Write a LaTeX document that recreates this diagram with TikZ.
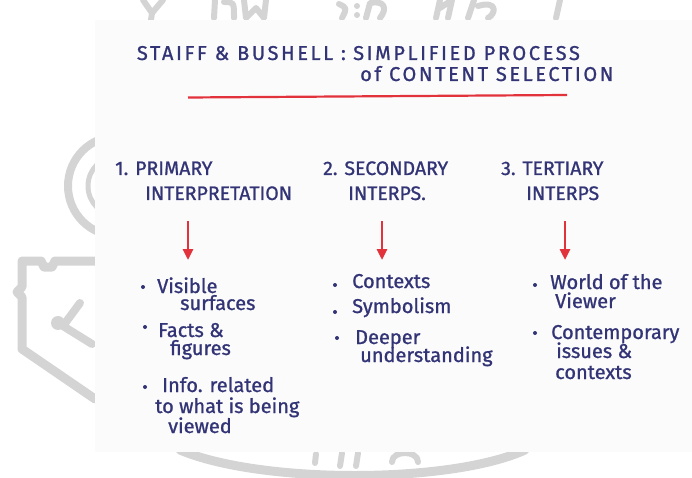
\documentclass[tikz,border=0pt]{standalone}
\usepackage{fontspec}
\setmainfont{Fira Sans}[FakeBold=1]
\newfontfamily\capsfont{Fira Sans}[LetterSpace=13, FakeBold=1]
\usetikzlibrary{arrows.meta}

\definecolor{ink}{RGB}{50,52,118}
\definecolor{marker}{RGB}{226,50,60}
\definecolor{paper}{RGB}{251,251,251}
\definecolor{seal}{RGB}{212,212,212}

\begin{document}
\begin{tikzpicture}[
    x=1pt, y=-1pt,
    hand/.style={text=ink, inner sep=0pt, anchor=base west,
      font=\fontsize{20}{24}\selectfont},
    headline/.style={hand, font=\fontsize{19.5}{24}\selectfont},
    titleline/.style={hand, font=\capsfont\fontsize{20}{24}\selectfont},
    bullet/.style={circle, fill=ink, inner sep=0pt, minimum size=4pt},
    arr/.style={-{Triangle[width=10pt,length=11pt]}, draw=marker, line width=2.6pt},
    wm/.style={draw=seal, line width=8pt, line join=round, line cap=round}
  ]
  \useasboundingbox (0,0) rectangle (692,478);

  % seal printed behind the sheet
  \draw[wm] (118,186) circle (50);
  \draw[wm, line width=5pt] (118,186) circle (30);
  \draw[wm, line width=9pt] (95,261) -- (55,261) -- (52,267) -- (44,267)
    -- (41,261) -- (22,261) -- (22,287) -- (17,292) -- (22,297) -- (22,349) -- (95,399);
  \draw[wm] (80,303) -- (63,326) -- (92,344);
  \fill[seal] (58,323) circle (7);
  \draw[wm, line width=9pt] (180,450) .. controls (260,484) and (450,484) .. (525,450);
  \draw[wm, line width=6pt] (316,454) -- (315,463);
  \draw[wm, line width=6pt] (342,453) -- (340,466) (358,453) -- (356,466);
  \draw[wm, line width=6pt] (392,462) .. controls (392,450) and (418,450) .. (418,462);
  \draw[wm, line width=6pt] (143,0) -- (152,13) -- (163,0) (152,13) -- (151,20);
  \draw[wm, line width=6pt] (215,0) -- (214,18) (224,2) .. controls (234,2) .. (234,18);
  \draw[wm, line width=6pt] (244,0) -- (246,18) -- (256,8) -- (264,18) -- (266,0);
  \draw[wm, line width=6pt] (339,4) .. controls (347,8) .. (342,18);
  \fill[seal] (357,6) circle (3) (357,15) circle (3);
  \draw[wm, line width=6pt] (366,18) -- (370,3) .. controls (384,0) and (388,8) .. (380,18);
  \draw[wm, line width=6pt] (436,18) -- (440,0) (440,8) -- (452,0) -- (448,18);
  \draw[wm, line width=6pt] (468,18) -- (474,0) (478,6) .. controls (498,0) and (496,14) .. (488,18);
  \draw[wm, line width=6pt] (560,0) -- (556,18);

  % the sheet
  \fill[paper] (95,20) rectangle (692,452);

  % title and its underline
  \node[titleline, anchor=base east] (title1) at (346,60) {STAIFF \& BUSHELL :};
  \node[titleline] (title2) at (353,60) {SIMPLIFIED PROCESS};
  \node[titleline] (title3) at (360,81) {of CONTENT SELECTION};
  \coordinate (u1) at (188,97.5);
  \coordinate (u2) at (567,95);
  \draw[marker, line width=2.2pt] (u1) -- (u2);

  % column headings
  \node[headline] (h1) at (115,175) {1. PRIMARY};
  \node[headline] (h1b) at (145,200) {INTERPRETATION};
  \node[headline] (h2) at (323,175) {2. SECONDARY};
  \node[headline] (h2b) at (348,200) {INTERPS.};
  \node[headline] (h3) at (501,175) {3. TERTIARY};
  \node[headline] (h3b) at (526,200) {INTERPS};

  % red arrows
  \coordinate (a1) at (188,221);
  \coordinate (b1) at (188,260);
  \coordinate (a2) at (382,221);
  \coordinate (b2) at (382,260);
  \coordinate (a3) at (565,221);
  \coordinate (b3) at (565,260);
  \draw[arr] (a1) -- (b1);
  \draw[arr] (a2) -- (b2);
  \draw[arr] (a3) -- (b3);

  % primary
  \node[bullet] (d11) at (143,287) {};
  \node[hand] (p1) at (157,293) {Visible};
  \node[hand] (p1b) at (180,310) {surfaces};
  \node[bullet] (d12) at (145,327) {};
  \node[hand] (p2) at (158,337) {Facts \&};
  \node[hand] (p2b) at (170,355) {figures};
  \node[bullet] (d13) at (145,387) {};
  \node[hand] (p3) at (162,392) {Info. related};
  \node[hand] (p3b) at (155,413) {to what is being};
  \node[hand] (p3c) at (168,433) {viewed};

  % secondary
  \node[bullet] (d21) at (335,285) {};
  \node[hand] (s1) at (352,288) {Contexts};
  \node[bullet] (d22) at (335,312) {};
  \node[hand] (s2) at (352,313) {Symbolism};
  \node[bullet] (d23) at (337,338) {};
  \node[hand] (s3) at (355,344) {Deeper};
  \node[hand] (s3b) at (360,362) {understanding};

  % tertiary
  \node[bullet] (d31) at (535,285) {};
  \node[hand] (r1) at (550,289) {World of the};
  \node[hand] (r1b) at (555,308) {Viewer};
  \node[bullet] (d32) at (535,333) {};
  \node[hand] (r2) at (551,339) {Contemporary};
  \node[hand] (r2b) at (556,358) {issues \&};
  \node[hand] (r2c) at (555,379) {contexts};
\end{tikzpicture}
\end{document}
